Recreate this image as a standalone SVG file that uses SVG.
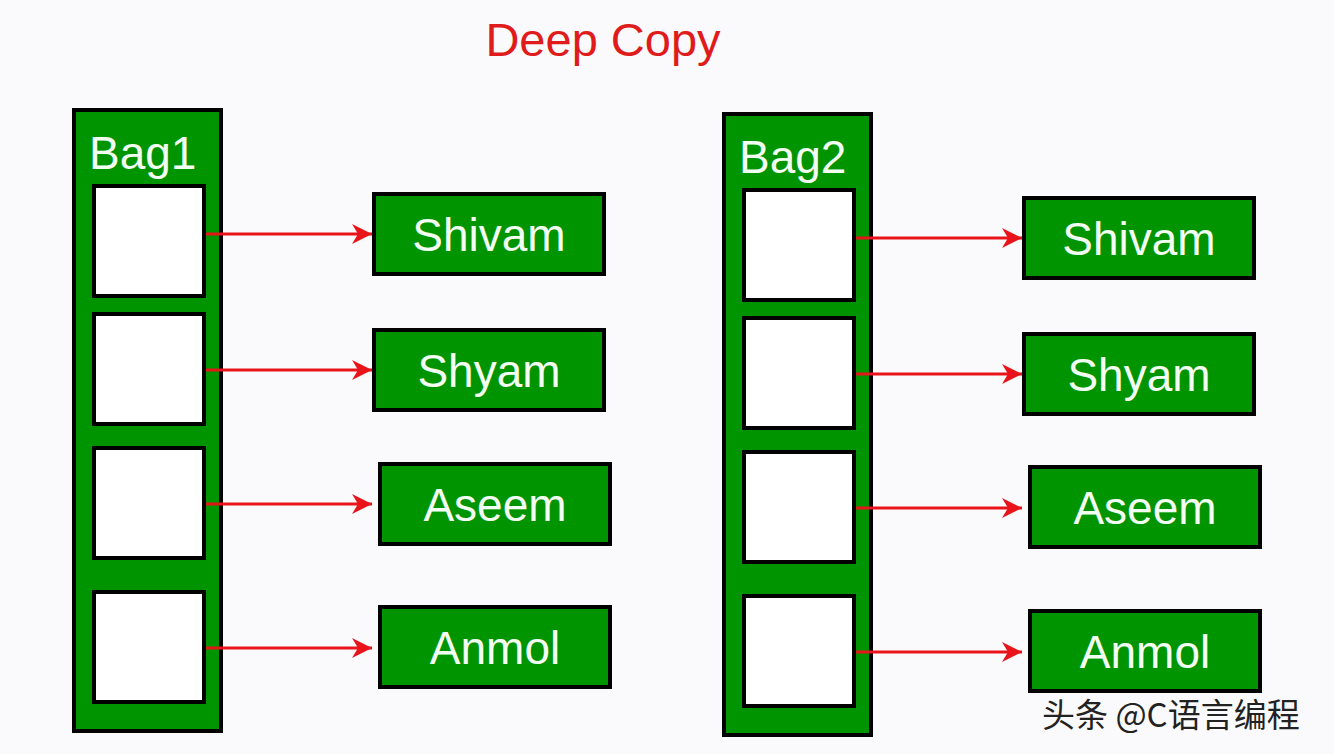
<svg xmlns="http://www.w3.org/2000/svg" width="1334" height="754" viewBox="0 0 1334 754">
<style>
.bag{fill:#019401;stroke:#000;stroke-width:4}
.slot{fill:#fff;stroke:#000;stroke-width:4}
.name{fill:#019401;stroke:#000;stroke-width:4}
.t{font-family:"Liberation Sans",Arial,sans-serif;font-size:46px;fill:#f4fff4}
.c{stroke:#e8141a;stroke-width:3;fill:none;marker-end:url(#a)}
</style>
<defs><marker id="a" markerWidth="22" markerHeight="20" refX="20" refY="10" orient="auto" markerUnits="userSpaceOnUse"><path d="M0,0 L20,10 L0,20 L6,10 Z" fill="#e8141a"/></marker></defs>
<rect width="1334" height="754" fill="#fafafc"/>
<text x="603" y="56" text-anchor="middle" font-family="Liberation Sans,Arial,sans-serif" font-size="47" fill="#e01b1b">Deep Copy</text>
<g id="bag1"><rect class="bag" x="74" y="110" width="147" height="621"/><text class="t" x="89" y="169">Bag1</text>
<rect class="slot" x="94" y="186" width="110" height="110"/><rect class="slot" x="94" y="314" width="110" height="110"/><rect class="slot" x="94" y="448" width="110" height="110"/><rect class="slot" x="94" y="592" width="110" height="110"/></g>
<g id="bag2"><rect class="bag" x="724" y="114" width="147" height="621"/><text class="t" x="739" y="173">Bag2</text>
<rect class="slot" x="744" y="190" width="110" height="110"/><rect class="slot" x="744" y="318" width="110" height="110"/><rect class="slot" x="744" y="452" width="110" height="110"/><rect class="slot" x="744" y="596" width="110" height="110"/></g>
<g id="n1"><rect class="name" x="374" y="194" width="230" height="80"/><text class="t" x="489" y="251" text-anchor="middle">Shivam</text></g>
<g id="n2"><rect class="name" x="374" y="330" width="230" height="80"/><text class="t" x="489" y="387" text-anchor="middle">Shyam</text></g>
<g id="n3"><rect class="name" x="380" y="464" width="230" height="80"/><text class="t" x="495" y="521" text-anchor="middle">Aseem</text></g>
<g id="n4"><rect class="name" x="380" y="607" width="230" height="80"/><text class="t" x="495" y="664" text-anchor="middle">Anmol</text></g>
<g id="n5"><rect class="name" x="1024" y="198" width="230" height="80"/><text class="t" x="1139" y="255" text-anchor="middle">Shivam</text></g>
<g id="n6"><rect class="name" x="1024" y="334" width="230" height="80"/><text class="t" x="1139" y="391" text-anchor="middle">Shyam</text></g>
<g id="n7"><rect class="name" x="1030" y="467" width="230" height="80"/><text class="t" x="1145" y="524" text-anchor="middle">Aseem</text></g>
<g id="n8"><rect class="name" x="1030" y="611" width="230" height="80"/><text class="t" x="1145" y="668" text-anchor="middle">Anmol</text></g>
<g id="connectors">
<line class="c" x1="206" y1="234" x2="372" y2="234"/><line class="c" x1="206" y1="370" x2="372" y2="370"/><line class="c" x1="206" y1="504" x2="372" y2="504"/><line class="c" x1="206" y1="648" x2="372" y2="648"/>
<line class="c" x1="856" y1="238" x2="1022" y2="238"/><line class="c" x1="856" y1="374" x2="1022" y2="374"/><line class="c" x1="856" y1="508" x2="1022" y2="508"/><line class="c" x1="856" y1="652" x2="1022" y2="652"/>
</g>
<text x="1042" y="727" font-family="Noto Sans CJK SC,sans-serif" font-size="33" fill="#222">头条 @C语言编程</text>
</svg>
